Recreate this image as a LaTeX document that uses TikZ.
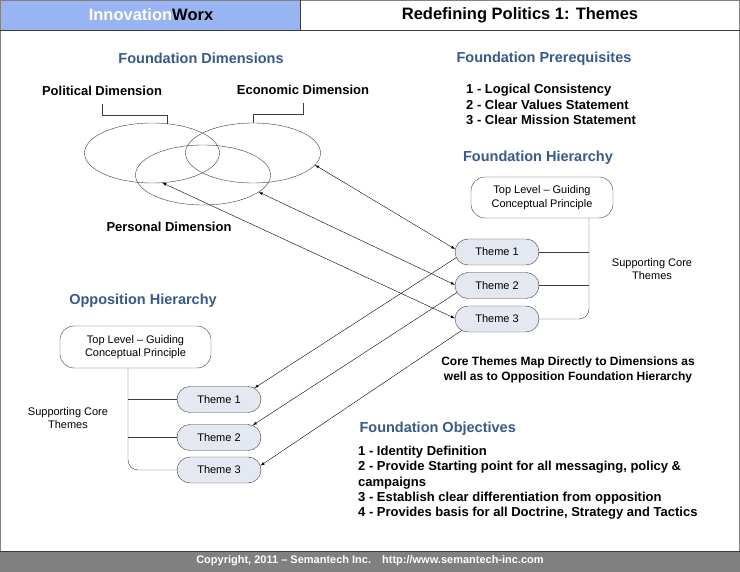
\documentclass[tikz,border=0pt]{standalone}
\usepackage{fontspec}
\setmainfont{Liberation Sans}
\usepackage{tikz}
\usetikzlibrary{shapes}
\definecolor{hdrblue}{RGB}{153,180,242}
\definecolor{headblue}{RGB}{54,90,140}
\definecolor{themefill}{RGB}{228,232,240}
\definecolor{footgray}{RGB}{128,128,128}
\definecolor{linegray}{RGB}{60,60,60}

\begin{document}
\begin{tikzpicture}[x=1pt,y=-1pt,>=latex,
	heading/.style={text=headblue,font=\bfseries\fontsize{14.5}{17}\selectfont},
	dimlabel/.style={font=\bfseries\fontsize{13}{15}\selectfont},
	dimension/.style={ellipse,draw=linegray,minimum width=135pt,minimum height=60pt,inner sep=0pt},
	toplevel/.style={draw=linegray,rounded corners=14pt,minimum width=142pt,minimum height=41pt,align=center,font=\fontsize{11}{13.5}\selectfont},
	theme/.style={rounded rectangle,draw=linegray,fill=themefill,minimum width=84pt,minimum height=26pt,inner sep=0pt,font=\fontsize{11}{13}\selectfont},
	note/.style={align=center,font=\fontsize{11}{13}\selectfont},
	list/.style={anchor=north west,align=left,inner sep=0pt,font=\bfseries\fontsize{13}{15.5}\selectfont}]
\useasboundingbox (0,0) rectangle (740,572);
\fill[hdrblue] (0,0) rectangle (300,30);
\fill[footgray] (0,551) rectangle (740,572);
\draw[gray] (0.5,0.5) rectangle (739.5,571.5);
\draw[linegray] (0,30) -- (740,30) (300,0) -- (300,30) (0,551) -- (740,551);
\node (brand) at (151,15) {\bfseries\fontsize{16.5}{18}\selectfont\textcolor{white}{Innovation}Worx};
\node (title) at (520,15) {\bfseries\fontsize{16.5}{18}\selectfont Redefining Politics 1: Themes};
\node[text=white] (copy) at (370,561) {\bfseries\fontsize{11}{13}\selectfont Copyright, 2011 -- Semantech Inc.\quad http://www.semantech-inc.com};

\node[heading] (dimhead) at (201,58) {Foundation Dimensions};
\node[dimlabel] (pollab) at (102,91) {Political Dimension};
\node[dimlabel] (econlab) at (303,90) {Economic Dimension};
\node[dimlabel] (perslab) at (169,227) {Personal Dimension};
\node[dimension] (pol) at (152,153) {};
\node[dimension] (econ) at (253,153) {};
\node[dimension] (pers) at (203,175) {};
\draw[linegray] ([yshift=-5pt]pollab.south) -- ++(0,11) -| (pol.63);
\draw[linegray] ([yshift=-5pt]econlab.south) -- ++(0,11) -| (econ.north);

\node[heading] (prehead) at (544,59) {Foundation Prerequisites};
\node[list] (prelist) at (466,84) {1 - Logical Consistency\\2 - Clear Values Statement\\3 - Clear Mission Statement};

\node[heading] (fhead) at (538,158) {Foundation Hierarchy};
\node[toplevel] (ftop) at (542,197.5) {Top Level -- Guiding\\Conceptual Principle};
\node[theme] (ft1) at (497,252) {Theme 1};
\node[theme] (ft2) at (497,285.5) {Theme 2};
\node[theme] (ft3) at (497,319) {Theme 3};
\coordinate (ftrunk) at ([xshift=47pt]ftop.south);
\draw[linegray,rounded corners=10pt] (ftrunk) |- (ft3.east);
\draw[linegray] (ft1.east) -- (ft1.east -| ftrunk);
\draw[linegray] (ft2.east) -- (ft2.east -| ftrunk);
\node[note] (fsupp) at (652,269) {Supporting Core\\Themes};

\node[heading] (ohead) at (143,301) {Opposition Hierarchy};
\node[toplevel,minimum width=151pt,minimum height=42pt] (otop) at (135.5,347) {Top Level -- Guiding\\Conceptual Principle};
\node[theme] (ot1) at (219,399.5) {Theme 1};
\node[theme] (ot2) at (219,437.5) {Theme 2};
\node[theme] (ot3) at (219,470) {Theme 3};
\coordinate (otrunk) at ([xshift=-7.5pt]otop.south);
\draw[linegray,rounded corners=10pt] (otrunk) |- (ot3.west);
\draw[linegray] (otrunk |- ot1.west) -- (ot1.west);
\draw[linegray] (otrunk |- ot2.west) -- (ot2.west);
\node[note] (osupp) at (68,418) {Supporting Core\\Themes};

\draw[<->] (ft1.176) -- (econ.-11);
\draw[<->] (ft2.179) -- (pers.-17);
\draw[<->] (ft3.179) -- (pol.-71);
\draw[->] (ft1.188) -- (ot1.18);
\draw[->] (ft2.190) -- (ot2.20);
\draw[->] (ft3.198) -- (ot3.6);

\node[align=center,font=\bfseries\fontsize{12}{15}\selectfont] (mapnote) at (568,369.5) {Core Themes Map Directly to Dimensions as\\well as to Opposition Foundation Hierarchy};

\node[heading,anchor=west] (objhead) at (356,429) {Foundation Objectives};
\node[list,font=\bfseries\fontsize{13}{15.3}\selectfont] (objlist) at (358,446) {1 - Identity Definition\\2 - Provide Starting point for all messaging, policy \&\\campaigns\\3 - Establish clear differentiation from opposition\\4 - Provides basis for all Doctrine, Strategy and Tactics};
\end{tikzpicture}
\end{document}
